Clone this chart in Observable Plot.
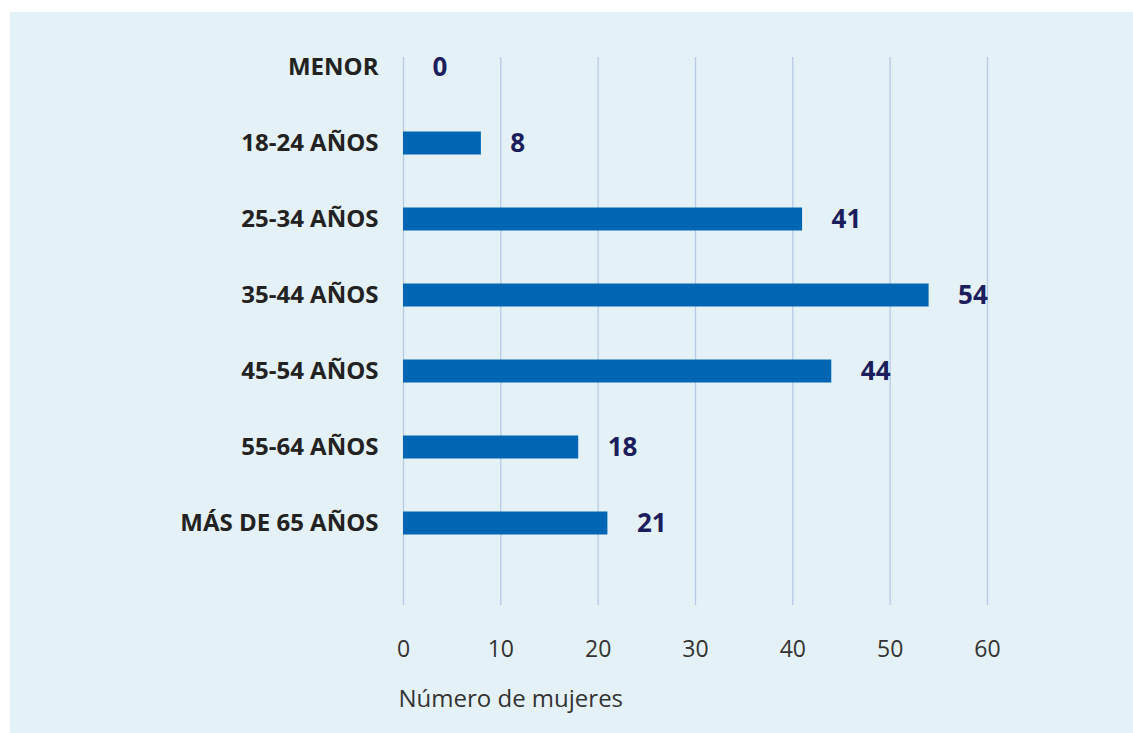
<!DOCTYPE html>
<html><head><meta charset="utf-8">
<script src="https://cdn.jsdelivr.net/npm/d3@7"></script>
<script src="https://cdn.jsdelivr.net/npm/@observablehq/plot@0.6"></script>
<style>
html,body{margin:0;padding:0;background:#fff;}
#panel{position:absolute;left:10px;top:12px;width:1123px;height:721px;background:#e4f1f6;overflow:hidden;}
</style></head><body><div id="panel"></div>
<script>
const categories = ["MENOR","18-24 AÑOS","25-34 AÑOS","35-44 AÑOS","45-54 AÑOS","55-64 AÑOS","MÁS DE 65 AÑOS"];
const values = [0, 8, 41, 54, 44, 18, 21];
const xTicks = [0, 10, 20, 30, 40, 50, 60];
const xLabel = "Número de mujeres";

const data = categories.map((c, i) => ({cat: c, value: values[i]}));

const chart = Plot.plot({
  width: 1123, height: 721,
  marginLeft: 393, marginRight: 146, marginTop: 45, marginBottom: 128,
  style: {background: "transparent", fontFamily: "'Open Sans', sans-serif", color: "#333"},
  x: {domain: [0, 60]},
  y: {domain: categories, range: [16, 549], padding: 0},
  marks: [
    Plot.ruleX(xTicks, {stroke: "#b9c9e8", strokeWidth: 1.3}),
    Plot.barX(data, {x: "value", y: "cat", fill: "#0066b3", insetTop: 26.5, insetBottom: 26.5}),
    Plot.text(data, {x: "value", y: "cat", text: d => String(d.value), textAnchor: "start", dx: 29,
      fill: "#1b1d5c", fontWeight: "bold", fontSize: 26}),
    Plot.axisY({tickSize: 0, tickPadding: 25, fontSize: 24, fontWeight: "bold", color: "#222", label: null}),
    Plot.axisX({ticks: xTicks, tickSize: 0, tickPadding: 35, fontSize: 23, color: "#333", label: null}),
    Plot.text([xLabel], {x: [0], frameAnchor: "bottom", textAnchor: "start", dx: -5, dy: 101,
      fontSize: 24, fill: "#333"})
  ]
});
document.getElementById("panel").appendChild(chart);
</script></body></html>
